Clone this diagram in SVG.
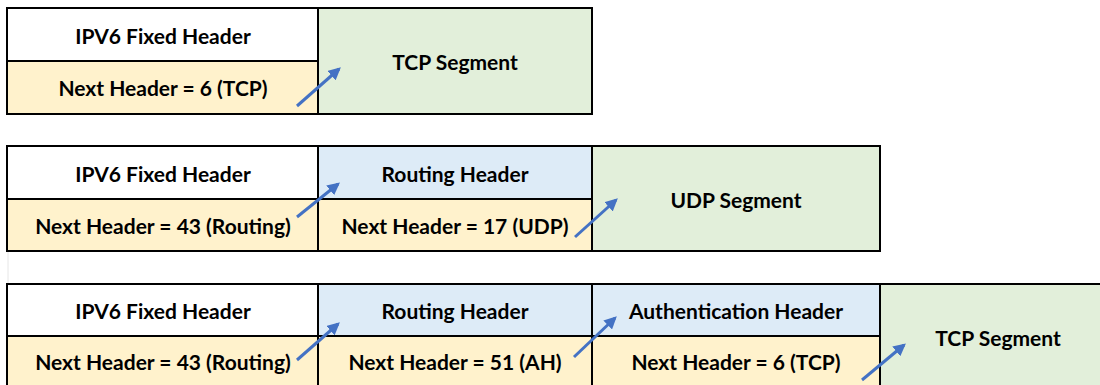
<svg xmlns="http://www.w3.org/2000/svg" width="1100" height="385" viewBox="0 0 1100 385">
<style>
  .cell { stroke: #000; stroke-width: 2; }
  .white { fill: #FFFFFF; }
  .nh { fill: #FFF2CC; }
  .ext { fill: #DDEBF7; }
  .seg { fill: #E2EFDA; }
  text { font-family: Lato, "Open Sans", "Liberation Sans", sans-serif; font-weight: 700; font-size: 21px; fill: #000; text-anchor: middle; dominant-baseline: central; }
  .arrow { stroke: #4472C4; stroke-width: 3; fill: none; marker-end: url(#ah); }
</style>
<defs>
  <marker id="ah" viewBox="0 0 10 10" refX="8" refY="5" markerWidth="4.2" markerHeight="4.2" orient="auto" markerUnits="strokeWidth">
    <path d="M0,0 L10,5 L0,10 z" fill="#4472C4"/>
  </marker>
</defs>
<rect width="1100" height="385" fill="#FFFFFF"/>
<line x1="8" y1="252" x2="8" y2="284" stroke="#E6E6E6" stroke-width="1"/>

<!-- Row 1 -->
<g id="r1-ipv6">
  <rect class="cell white" x="7" y="8" width="311" height="53"/>
  <text x="163" y="35">IPV6 Fixed Header</text>
</g>
<g id="r1-nh">
  <rect class="cell nh" x="7" y="61" width="311" height="53"/>
  <text x="163" y="87">Next Header = 6 (TCP)</text>
</g>
<g id="r1-tcp">
  <rect class="cell seg" x="318" y="8" width="274" height="106"/>
  <text x="455" y="61">TCP Segment</text>
</g>

<!-- Row 2 -->
<g id="r2-ipv6">
  <rect class="cell white" x="7" y="146" width="311" height="53"/>
  <text x="163" y="173">IPV6 Fixed Header</text>
</g>
<g id="r2-nh">
  <rect class="cell nh" x="7" y="199" width="311" height="52"/>
  <text x="163" y="225">Next Header = 43 (Routing)</text>
</g>
<g id="r2-routing">
  <rect class="cell ext" x="318" y="146" width="274" height="53"/>
  <text x="455" y="173">Routing Header</text>
</g>
<g id="r2-routing-nh">
  <rect class="cell nh" x="318" y="199" width="274" height="52"/>
  <text x="455" y="225">Next Header = 17 (UDP)</text>
</g>
<g id="r2-udp">
  <rect class="cell seg" x="592" y="146" width="288" height="105"/>
  <text x="736" y="199">UDP Segment</text>
</g>

<!-- Row 3 -->
<g id="r3-ipv6">
  <rect class="cell white" x="7" y="284" width="311" height="52"/>
  <text x="163" y="310">IPV6 Fixed Header</text>
</g>
<g id="r3-nh">
  <rect class="cell nh" x="7" y="336" width="311" height="54"/>
  <text x="163" y="361">Next Header = 43 (Routing)</text>
</g>
<g id="r3-routing">
  <rect class="cell ext" x="318" y="284" width="274" height="52"/>
  <text x="455" y="310">Routing Header</text>
</g>
<g id="r3-routing-nh">
  <rect class="cell nh" x="318" y="336" width="274" height="54"/>
  <text x="455" y="361">Next Header = 51 (AH)</text>
</g>
<g id="r3-auth">
  <rect class="cell ext" x="592" y="284" width="288" height="52"/>
  <text x="736" y="310">Authentication Header</text>
</g>
<g id="r3-auth-nh">
  <rect class="cell nh" x="592" y="336" width="288" height="54"/>
  <text x="736" y="361">Next Header = 6 (TCP)</text>
</g>
<g id="r3-tcp">
  <rect class="cell seg" x="880" y="284" width="236" height="106"/>
  <text x="998" y="337">TCP Segment</text>
</g>

<!-- Connectors -->
<g id="connectors">
  <line class="arrow" x1="297" y1="106" x2="339" y2="69"/>
  <line class="arrow" x1="297" y1="217" x2="338" y2="184"/>
  <line class="arrow" x1="575" y1="237" x2="616" y2="200"/>
  <line class="arrow" x1="297" y1="360" x2="338" y2="324"/>
  <line class="arrow" x1="574" y1="357" x2="615" y2="318"/>
  <line class="arrow" x1="862" y1="380" x2="904" y2="345"/>
</g>
</svg>
